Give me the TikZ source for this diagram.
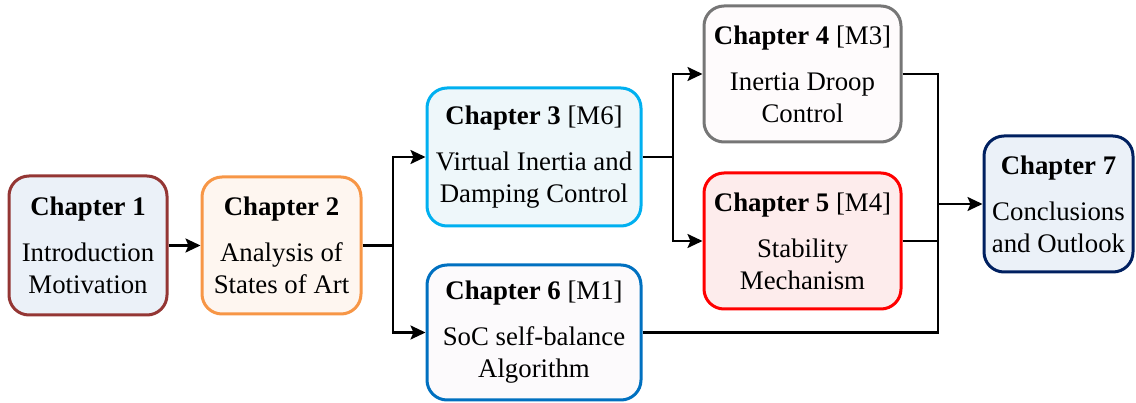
\documentclass[tikz,border=0pt]{standalone}
\usepackage{fontspec}
\setmainfont{Liberation Serif}
\usetikzlibrary{arrows.meta}

\definecolor{ch1line}{HTML}{943634}\definecolor{ch1fill}{HTML}{EBF1F8}
\definecolor{ch2line}{HTML}{F79646}\definecolor{ch2fill}{HTML}{FEF6F0}
\definecolor{ch3line}{HTML}{00B0F0}\definecolor{ch3fill}{HTML}{EEF7FA}
\definecolor{ch4line}{HTML}{767676}\definecolor{ch4fill}{HTML}{FEFBFC}
\definecolor{ch5line}{HTML}{FF0000}\definecolor{ch5fill}{HTML}{FDECEC}
\definecolor{ch6line}{HTML}{0070C0}\definecolor{ch6fill}{HTML}{FCFAFC}
\definecolor{ch7line}{HTML}{002060}\definecolor{ch7fill}{HTML}{EBF1F8}

\tikzset{
  chapbox/.style={rectangle, rounded corners=20pt, line width=3pt,
    align=center, inner sep=0pt,
    font=\fontsize{26.8}{32}\selectfont},
  link/.style={line width=2.2pt, draw=black},
  arr/.style={link, -{Stealth[length=15pt,width=14pt,inset=3pt]}},
}

\begin{document}
\begin{tikzpicture}[x=1pt,y=-1pt]
\useasboundingbox (0,0) rectangle (1136,403);

\node[chapbox, draw=ch1line, fill=ch1fill, minimum width=158pt, minimum height=139pt]
  (c1) at (88,245.5) {\textbf{Chapter 1}\\[14pt]Introduction\\Motivation};
\node[chapbox, draw=ch2line, fill=ch2fill, minimum width=159pt, minimum height=137pt]
  (c2) at (281.5,245.5) {\textbf{Chapter 2}\\[14pt]Analysis of\\States of Art};
\node[chapbox, draw=ch3line, fill=ch3fill, minimum width=214pt, minimum height=138pt]
  (c3) at (534,157) {\textbf{Chapter 3} [M6]\\[14pt]Virtual Inertia and\\Damping Control};
\node[chapbox, draw=ch6line, fill=ch6fill, minimum width=214pt, minimum height=135pt]
  (c6) at (534,332.5) {\textbf{Chapter 6} [M1]\\[14pt]SoC self-balance\\Algorithm};
\node[chapbox, draw=ch4line, fill=ch4fill, minimum width=197pt, minimum height=136pt]
  (c4) at (802.5,74) {\textbf{Chapter 4} [M3]\\[14pt]Inertia Droop\\Control};
\node[chapbox, draw=ch5line, fill=ch5fill, minimum width=197pt, minimum height=136pt]
  (c5) at (802.5,241) {\textbf{Chapter 5} [M4]\\[14pt]Stability\\Mechanism};
\node[chapbox, draw=ch7line, fill=ch7fill, minimum width=149pt, minimum height=136pt]
  (c7) at (1058.5,204) {\textbf{Chapter 7}\\[14pt]Conclusions\\and Outlook};

% branching points of the connectors
\coordinate (j1) at (393,245.5);
\coordinate (j2) at (673,157);
\coordinate (j3) at (938,204);

\draw[arr] (c1.east) -- (c2.west);

\draw[link] (c2.east) -- (j1);
\draw[arr] (j1) |- (c3.west);
\draw[arr] (j1) |- (c6.west);

\draw[link] (c3.east) -- (j2);
\draw[arr] (j2) |- (c4.west);
\draw[arr] (j2) |- (c5.west);

\draw[link] (c4.east) -| (j3);
\draw[link] (c5.east) -| (j3);
\draw[link] (c6.east) -| (j3);
\draw[arr] (j3) -- (c7.west);
\end{tikzpicture}
\end{document}
